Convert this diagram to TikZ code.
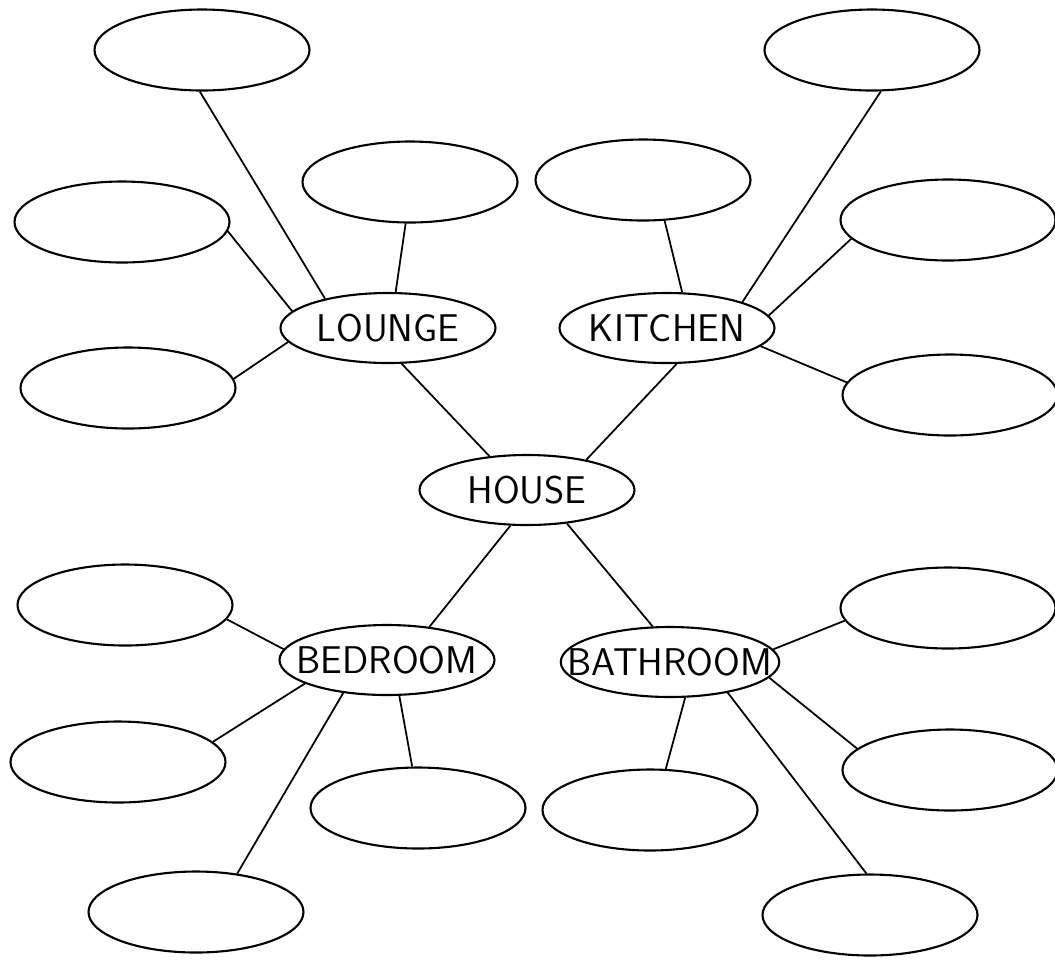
\documentclass[tikz,border=0pt]{standalone}
\usepackage{tikz}
\usetikzlibrary{shapes.geometric}

\begin{document}
\begin{tikzpicture}[line width=1pt,
	room/.style={draw, ellipse, line width=1.2pt, minimum width=4.3cm, minimum height=1.4cm, inner xsep=-0.5cm, inner ysep=0pt, font=\sffamily\fontsize{22}{24}\selectfont},
	blank/.style={draw, ellipse, line width=1.2pt, minimum width=4.3cm, minimum height=1.62cm, inner sep=0pt}]
	\useasboundingbox (0,0) rectangle (21.1,-19.5);
	\node[room] (house) at (10.54,-9.8) {HOUSE};
	\node[room] (lounge) at (7.76,-6.56) {LOUNGE};
	\node[room] (kitchen) at (13.34,-6.56) {KITCHEN};
	\node[room] (bedroom) at (7.74,-13.2) {BEDROOM};
	\node[room] (bathroom) at (13.4,-13.24) {BATHROOM};
	\foreach \n/\x/\y in {l1/4.04/-1.0, l2/8.2/-3.64, l3/2.44/-4.44, l4/2.56/-7.76,
		k1/12.86/-3.6, k2/17.44/-1.0, k3/18.96/-4.4, k4/19.0/-7.9,
		b1/2.5/-12.1, b2/2.36/-15.24, b3/8.36/-16.16, b4/3.92/-18.24,
		t1/18.96/-12.16, t2/19.0/-15.4, t3/13.0/-16.2, t4/17.4/-18.3}
		\node[blank] (\n) at (\x,\y) {};
	% house to rooms
	\draw (house.138) -- (lounge.-69);
	\draw (house.27) -- (kitchen.-75);
	\draw (house.-115) -- (bedroom.38);
	\draw (house.-40) -- (bathroom.116);
	% rooms to blanks
	\foreach \a/\b in {lounge.155/l1.-93, lounge.78/l2.-96, lounge.170/l3.-5, lounge.-172/l4.5,
		kitchen.67/k1.-62, kitchen.19/k2.-78, kitchen.7/k3.-169, kitchen.-11/k4.173,
		bedroom.174/b1.-8, bedroom.-164/b2.12, bedroom.-71/b3.98, bedroom.-143/b4.43,
		bathroom.7/t1.-173, bathroom.-9/t2.167, bathroom.-67/t3.69, bathroom.-28/t4.95}
		\draw (\a) -- (\b);
\end{tikzpicture}
\end{document}
